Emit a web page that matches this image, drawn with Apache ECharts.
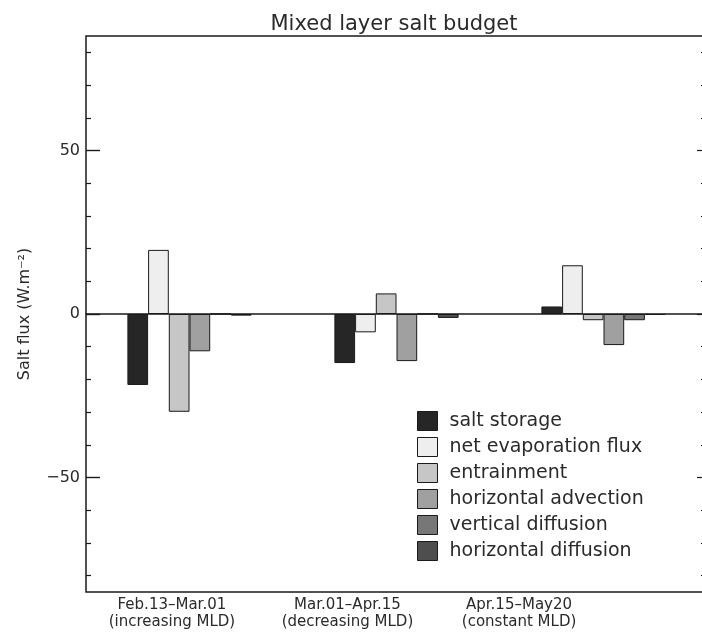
<!DOCTYPE html>
<html>
<head>
<meta charset="utf-8">
<title>Mixed layer salt budget</title>
<script src="https://cdn.jsdelivr.net/npm/echarts@6/dist/echarts.min.js"></script>
<style>
  html, body { margin: 0; padding: 0; background: #ffffff; }
  #chart { width: 702px; height: 639px; }
</style>
</head>
<body>
<div id="chart"></div>
<script>
// Periods (two-line labels) along the x axis
const periodNames = ['Feb.13–Mar.01', 'Mar.01–Apr.15', 'Apr.15–May20'];
const periodPhases = ['(increasing MLD)', '(decreasing MLD)', '(constant MLD)'];

// Budget terms, one value per period (salt flux, W.m-2)
const termNames = ['salt storage', 'net evaporation flux', 'entrainment',
                   'horizontal advection', 'vertical diffusion', 'horizontal diffusion'];
const saltStorage         = [-21.7, -15.0,  2.3];
const netEvaporationFlux  = [ 19.6,  -5.6, 14.9];
const entrainment         = [-29.9,   6.3, -1.9];
const horizontalAdvection = [-11.4, -14.4, -9.5];
const verticalDiffusion   = [  0.0,   0.0, -1.9];
const horizontalDiffusion = [ -0.5,  -1.2, -0.3];

// Y axis tick values
const yLabelTicks = [-50, 0, 50];
const yMinorTicks = [-80, -70, -60, -40, -30, -20, -10, 10, 20, 30, 40, 60, 70, 80];

const termValues = [saltStorage, netEvaporationFlux, entrainment,
                    horizontalAdvection, verticalDiffusion, horizontalDiffusion];
const termFills = ['#262626', '#eeeeee', '#c6c6c6', '#a0a0a0', '#777777', '#4e4e4e'];

const FONT = 'DejaVu Sans';
const INK = '#1a1a1a';
const TEXT = '#2a2a2a';
const Y_MIN = -85, Y_MAX = 85;

// Plot box
const GRID_LEFT = 86, GRID_RIGHT = -5;
const MAJOR_TICK_LEN = 14;

// Period labels sit on their own value axis: 0 is the left edge of the plot,
// category k spans [k, k+1]
const periodLabelAt = [0.415, 1.263, 2.092];

const chart = echarts.init(document.getElementById('chart'), null, { renderer: 'canvas' });

// Tick-only axis (inward ticks at the given values)
function tickAxis(side, ticks, len) {
  return {
    type: 'value', position: side, min: Y_MIN, max: Y_MAX,
    axisLine: { show: false, onZero: false },
    splitLine: { show: false },
    axisTick: { show: true, inside: true, length: len, customValues: ticks,
                lineStyle: { color: INK, width: 1.2 } },
    axisLabel: { show: false }
  };
}

const yAxes = [
  {
    // labelled axis
    type: 'value', position: 'left', min: Y_MIN, max: Y_MAX,
    axisLine: { show: false, onZero: false },
    splitLine: { show: false },
    axisTick: { show: false },
    axisLabel: {
      show: true, customValues: yLabelTicks, margin: 6,
      fontFamily: FONT, fontSize: 16, color: TEXT,
      formatter: v => (v < 0 ? '−' + Math.abs(v) : String(v))
    },
    name: 'Salt flux (W.m⁻²)', nameLocation: 'middle', nameGap: 53, nameRotate: 90,
    nameTextStyle: { fontFamily: FONT, fontSize: 16, color: TEXT }
  },
  tickAxis('left', yLabelTicks, MAJOR_TICK_LEN),
  tickAxis('left', yMinorTicks, 5),
  tickAxis('right', yLabelTicks, 10),
  tickAxis('right', yMinorTicks, 6)
];

// Long left-edge ticks at the labelled values, drawn as short marker lines
// (value on the y scale, starting at the plot's left edge)
const majorTickLines = yLabelTicks.map(v => [
  { x: GRID_LEFT, yAxis: v },
  { x: GRID_LEFT + MAJOR_TICK_LEN, yAxis: v }
]);

const series = termNames.map((name, i) => {
  const s = {
    name: name,
    type: 'bar',
    xAxisIndex: 0,
    yAxisIndex: 0,
    data: termValues[i],
    barWidth: '10%',
    barGap: '0%',
    itemStyle: { color: termFills[i], borderColor: INK, borderWidth: 1 },
    emphasis: { disabled: true },
    animation: false
  };
  if (i === 0) {
    s.markLine = {
      silent: true, animation: false,
      symbol: ['none', 'none'],
      label: { show: false },
      emphasis: { disabled: true },
      lineStyle: { color: INK, width: 1.2, type: 'solid' },
      data: majorTickLines
    };
  }
  return s;
});

chart.setOption({
  animation: false,
  backgroundColor: '#ffffff',
  title: {
    text: 'Mixed layer salt budget',
    left: 394, top: 14, padding: 0, textAlign: 'center',
    textStyle: { fontFamily: FONT, fontSize: 21, fontWeight: 'normal', color: TEXT }
  },
  grid: {
    left: GRID_LEFT, right: GRID_RIGHT, top: 36, bottom: 47,
    outerBoundsMode: 'none',
    containLabel: false,
    show: true, borderColor: INK, borderWidth: 1.5, backgroundColor: 'transparent'
  },
  legend: {
    orient: 'vertical', left: 417, top: 411, padding: 0,
    itemWidth: 20, itemHeight: 19, itemGap: 6,
    icon: 'rect',
    data: termNames,
    itemStyle: { borderColor: INK, borderWidth: 1 },
    textStyle: { fontFamily: FONT, fontSize: 19, lineHeight: 19, color: TEXT, padding: [0, 0, 0, 7] },
    selectedMode: false
  },
  xAxis: [
    {
      type: 'category', data: periodNames,
      boundaryGap: true,
      axisLine: { show: true, onZero: true, lineStyle: { color: INK, width: 1.5 } },
      axisTick: { show: false },
      axisLabel: { show: false },
      splitLine: { show: false }
    },
    {
      type: 'value', position: 'bottom', min: 0, max: 3,
      axisLine: { show: false, onZero: false },
      axisTick: { show: false },
      splitLine: { show: false },
      axisLabel: {
        show: true, customValues: periodLabelAt, margin: 5,
        fontFamily: FONT, fontSize: 15, lineHeight: 17, color: TEXT, align: 'center',
        formatter: v => {
          let k = 0, best = Infinity;
          periodLabelAt.forEach((p, j) => { const d = Math.abs(p - v); if (d < best) { best = d; k = j; } });
          return periodNames[k] + '\n' + periodPhases[k];
        }
      }
    }
  ],
  yAxis: yAxes,
  series: series
});
</script>
</body>
</html>
